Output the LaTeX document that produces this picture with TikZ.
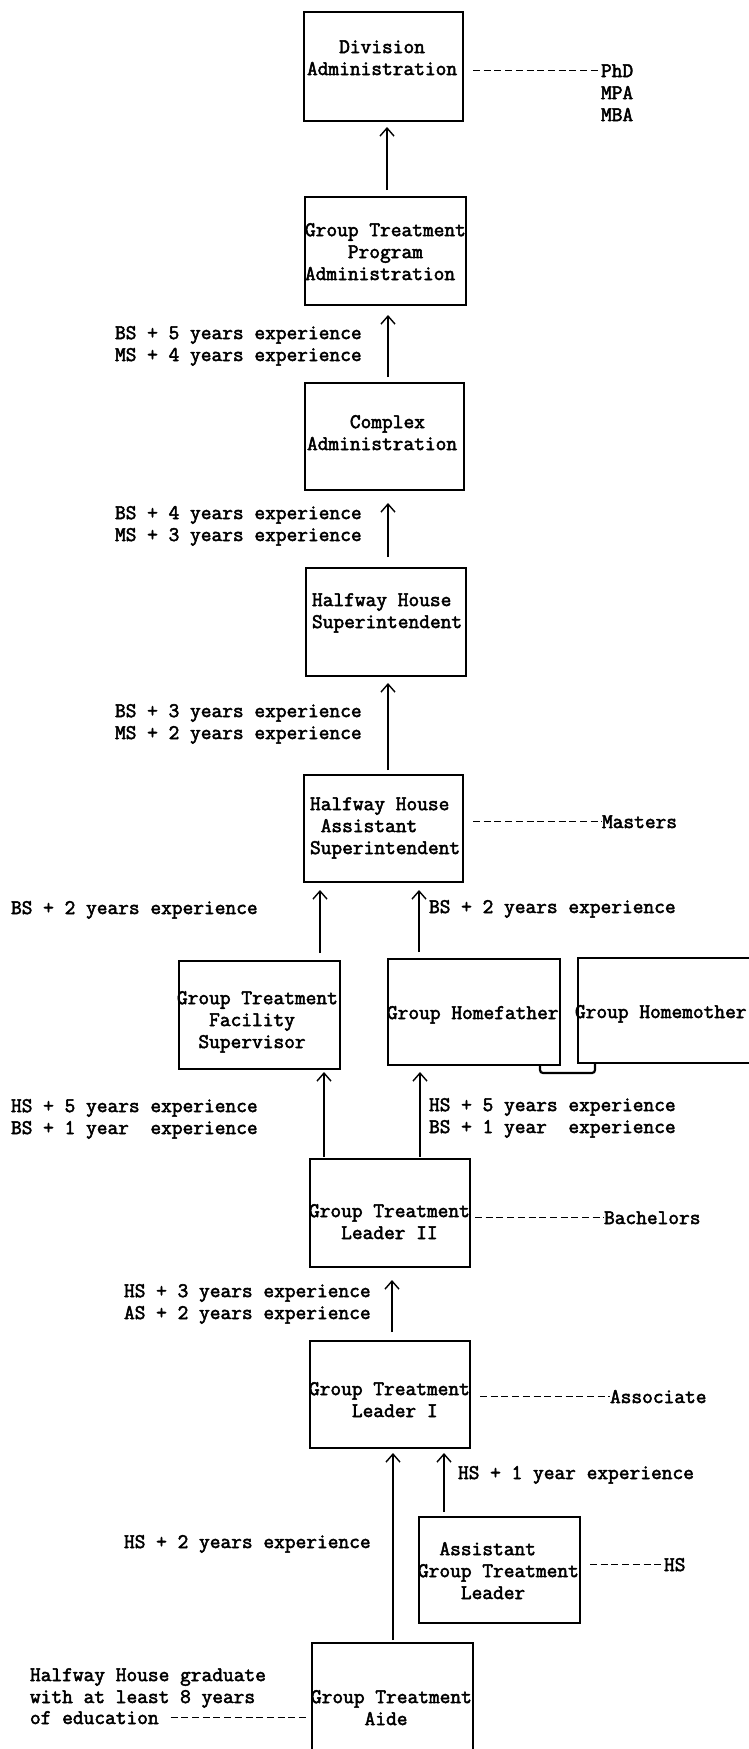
\documentclass[tikz,border=0pt]{standalone}
\usepackage{fontspec}
\newfontfamily\tw{Latin Modern Mono}[FakeBold=2.5]
\usetikzlibrary{arrows.meta}
\newcommand\ind[1]{\hphantom{#1}}

\begin{document}
\begin{tikzpicture}[x=1bp,y=-1bp,
  every node/.style={font={\tw\fontsize{20.9}{22}\selectfont}},
  box/.style={draw, line width=2bp, rectangle, inner sep=0pt, outer sep=0pt},
  txt/.style={inner sep=0pt, outer sep=0pt, anchor=base west, align=left},
  up/.style={line width=1.4bp, -{Straight Barb[length=8bp,width=14bp,line width=1.4bp]},
    shorten <=6bp, shorten >=6bp},
  leader/.style={line width=1.5bp, dash pattern=on 7bp off 3.7bp, shorten <=10bp},
  link/.style={line width=2.2bp, rounded corners=3bp}]

\useasboundingbox (0,0) rectangle (749,1749);

% position boxes
\node[box, minimum width=159bp, minimum height=109bp] (div)  at (383.5,66.5)  {};
\node[box, minimum width=161bp, minimum height=108bp] (gtpa) at (385.5,251)   {};
\node[box, minimum width=159bp, minimum height=107bp] (cplx) at (384.5,436.5) {};
\node[box, minimum width=160bp, minimum height=108bp] (hhs)  at (386,622)     {};
\node[box, minimum width=159bp, minimum height=107bp] (hhas) at (383.5,828.5) {};
\node[box, minimum width=161bp, minimum height=108bp] (gtfs) at (259.5,1015)  {};
\node[box, minimum width=172bp, minimum height=106bp] (hf)   at (474,1012)    {};
\node[box, minimum width=192bp, minimum height=105bp] (hm)   at (674,1010.5)  {};
\node[box, minimum width=160bp, minimum height=108bp] (gtl2) at (390,1213)    {};
\node[box, minimum width=160bp, minimum height=107bp] (gtl1) at (390,1394.5)  {};
\node[box, minimum width=161bp, minimum height=106bp] (agtl) at (499.5,1570)  {};
\node[box, minimum width=161bp, minimum height=147bp] (gta)  at (392.5,1716.5){};

% titles typed inside the boxes (anchored at the baseline of the last line)
\node[txt] (divT)  at (307,75)   {\ind{xxx}Division\\Administration};
\node[txt] (gtpaT) at (305,280)  {Group Treatment\\\ind{xxxx}Program\\Administration};
\node[txt] (cplxT) at (307,450)  {\ind{xxxx}Complex\\Administration};
\node[txt] (hhsT)  at (312,628)  {Halfway House\\Superintendent};
\node[txt] (hhasT) at (310,854)  {Halfway House\\\ind{x}Assistant\\Superintendent};
\node[txt] (gtfsT) at (177,1048) {Group Treatment\\\ind{xxx}Facility\\\ind{xx}Supervisor};
\node[txt] (hfT)   at (387,1019) {Group Homefather};
\node[txt] (hmT)   at (575,1018) {Group Homemother};
\node[txt] (gtl2T) at (309,1239) {Group Treatment\\\ind{xxx}Leader II};
\node[txt] (gtl1T) at (309,1417) {Group Treatment\\\ind{xxxx}Leader I};
\node[txt] (agtlT) at (418,1599) {\ind{xx}Assistant\\Group Treatment\\\ind{xxxx}Leader};
\node[txt] (gtaT)  at (311,1725) {Group Treatment\\\ind{xxxxx}Aide};

% degree levels
\node[txt] (phd) at (601,77)  {PhD};
\node[txt] (mpa) at (601,121) {MPA\\MBA};
\node[txt] (mas) at (602,828) {Masters};
\node[txt] (bac) at (604,1224) {Bachelors};
\node[txt] (aso) at (610,1403) {Associate};
\node[txt] (hsd) at (664,1571) {HS};
\node[txt] (grad) at (30,1703) {Halfway House graduate\\with at least 8 years};
\node[txt] (edu)  at (30,1724) {of education};

% experience requirements
\node[txt] (e1) at (115,361)  {BS + 5 years experience\\MS + 4 years experience};
\node[txt] (e2) at (115,541)  {BS + 4 years experience\\MS + 3 years experience};
\node[txt] (e3) at (115,739)  {BS + 3 years experience\\MS + 2 years experience};
\node[txt] (e4) at (11,914)   {BS + 2 years experience};
\node[txt] (e5) at (429,913)  {BS + 2 years experience};
\node[txt] (e6) at (11,1134)  {HS + 5 years experience\\BS + 1 year\ \ experience};
\node[txt] (e7) at (429,1133) {HS + 5 years experience\\BS + 1 year\ \ experience};
\node[txt] (e8) at (124,1319) {HS + 3 years experience\\AS + 2 years experience};
\node[txt] (e9) at (458,1479) {HS + 1 year experience};
\node[txt] (e10) at (124,1548) {HS + 2 years experience};

% promotion arrows
\draw[up, shorten <=7bp]  (387,0 |- gtpa.north) -- (387,0 |- div.south);
\draw[up, shorten >=10bp] (388,0 |- cplx.north) -- (388,0 |- gtpa.south);
\draw[up, shorten <=11bp, shorten >=13bp] (388,0 |- hhs.north) -- (388,0 |- cplx.south);
\draw[up, shorten <=5bp, shorten >=7bp] (388,0 |- hhas.north) -- (388,0 |- hhs.south);
\draw[up, shorten <=8bp, shorten >=8bp] (320,0 |- gtfs.north) -- (320,0 |- hhas.south);
\draw[up, shorten <=7bp, shorten >=8bp] (419,0 |- hf.north) -- (419,0 |- hhas.south);
\draw[up, shorten <=2bp, shorten >=3bp] (324,0 |- gtl2.north) -- (324,0 |- gtfs.south);
\draw[up, shorten <=2bp, shorten >=7bp] (420,0 |- gtl2.north) -- (420,0 |- hf.south);
\draw[up, shorten <=9bp, shorten >=13bp] (392,0 |- gtl1.north) -- (392,0 |- gtl2.south);
\draw[up, shorten <=3bp, shorten >=5bp] (393,0 |- gta.north) -- (393,0 |- gtl1.south);
\draw[up, line width=2.2bp, shorten <=5bp, shorten >=5bp] (444,0 |- agtl.north) -- (444,0 |- gtl1.south);

% homefather / homemother pairing
\draw[link] (540,0 |- hf.south) -- ++(0,8) -| (595,0 |- hm.south);

% degree leaders
\draw[leader] (div.east |- phd.west) -- (phd.west);
\draw[leader] (hhas.east |- mas.west) -- (mas.west);
\draw[leader, shorten <=5bp] (gtl2.east |- bac.west) -- (bac.west);
\draw[leader] (gtl1.east |- aso.west) -- (aso.west);
\draw[leader] (agtl.east |- hsd.west) -- (hsd.west);
\draw[leader, shorten <=12bp, shorten >=6bp] (edu.east) -- (gta.west |- edu.east);
\end{tikzpicture}
\end{document}
